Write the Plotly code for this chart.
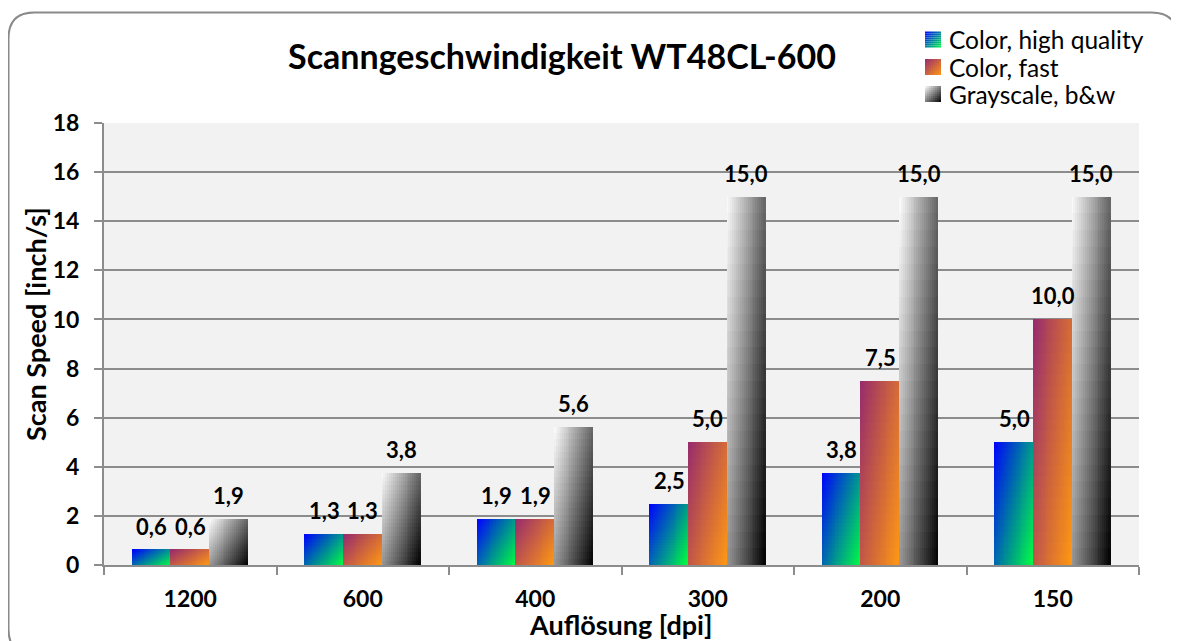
import math
import plotly.graph_objects as go

# ---------------- data ----------------
categories = ["1200", "600", "400", "300", "200", "150"]
series_names = ["Color, high quality", "Color, fast", "Grayscale, b&w"]
hq_values = [0.625, 1.25, 1.875, 2.5, 3.75, 5.0]
fast_values = [0.625, 1.25, 1.875, 5.0, 7.5, 10.0]
gray_values = [1.875, 3.75, 5.625, 15.0, 15.0, 15.0]
y_ticks = [0, 2, 4, 6, 8, 10, 12, 14, 16, 18]

title_text = "Scanngeschwindigkeit WT48CL-600"
y_title = "Scan Speed [inch/s]"
x_title = "Auflösung [dpi]"

# ---------------- styling ----------------
OFF = 8  # page body margin
W, H = 1179 - OFF, 641 - OFF
ML, MR, MT, MB = 104 - OFF, 40, 123 - OFF, 76
PW, PH = W - ML - MR, H - MT - MB
FONT = "Lato"

grad = [  # (top-left colour, bottom-right colour)
    ((0, 0, 255), (0, 255, 64)),
    ((150, 42, 110), (255, 152, 18)),
    ((255, 255, 255), (0, 0, 0)),
]

all_values = [hq_values, fast_values, gray_values]

group_w = 0.67
bar_w = group_w / 3
NX, NY = 20, 22  # gradient slices


def lerp(c0, c1, t):
    return "rgb(%d,%d,%d)" % tuple(round(a + (b - a) * t) for a, b in zip(c0, c1))


def label(v):
    return ("%.1f" % (math.floor(v * 10 + 0.5) / 10)).replace(".", ",")


def px2paper(px, py):
    # reference-image pixel -> paper coords
    return (px - OFF - ML) / PW, (MT + PH - (py - OFF)) / PH


fig = go.Figure()

for s, vals in enumerate(all_values):
    c0, c1 = grad[s]
    left = -group_w / 2 + s * bar_w
    for k in range(NX):
        u = (k + 0.5) / NX
        for j in range(NY):
            vfrac_top = 1 - (j + 0.5) / NY
            t = 0.6 * u + 0.4 * vfrac_top
            fig.add_trace(go.Bar(
                x=categories,
                y=[v / NY for v in vals],
                base=[v * j / NY for v in vals],
                offset=left + k * bar_w / NX,
                width=bar_w / NX,
                marker=dict(color=lerp(c0, c1, t), line=dict(width=0)),
                name=series_names[s],
                legendgroup=series_names[s],
                showlegend=False,
                hoverinfo="skip",
            ))

annotations = []
for s, vals in enumerate(all_values):
    center = -group_w / 2 + (s + 0.5) * bar_w
    for i, v in enumerate(vals):
        annotations.append(dict(
            x=i + center, y=v, xref="x", yref="y",
            text="<b>%s</b>" % label(v), showarrow=False,
            xanchor="center", yanchor="bottom", yshift=8,
            font=dict(family=FONT, size=22, color="#000"),
        ))

ax, ay = px2paper(35, 324)
annotations.append(dict(
    x=ax, y=ay, xref="paper", yref="paper", xanchor="center", yanchor="middle",
    text="<b>%s</b>" % y_title, textangle=-90, showarrow=False,
    font=dict(family=FONT, size=27, color="#000"),
))
ax, ay = px2paper(620, 624)
annotations.append(dict(
    x=ax, y=ay, xref="paper", yref="paper", xanchor="center", yanchor="middle",
    text="<b>%s</b>" % x_title, showarrow=False,
    font=dict(family=FONT, size=27, color="#000"),
))

shapes = []
# custom legend with gradient swatches
leg_rows = [39.5, 67, 94]
SW = 16
G = 8
for s, name in enumerate(series_names):
    c0, c1 = grad[s]
    cy = leg_rows[s]
    sx0, sy0 = 925, cy - SW / 2
    for a in range(G):
        for b in range(G):
            t = 0.5 * (a + 0.5) / G + 0.5 * (b + 0.5) / G
            px0, py0 = px2paper(sx0 + a * SW / G, sy0 + b * SW / G)
            px1, py1 = px2paper(sx0 + (a + 1) * SW / G, sy0 + (b + 1) * SW / G)
            shapes.append(dict(type="rect", xref="paper", yref="paper",
                               x0=px0, x1=px1, y0=py1, y1=py0,
                               fillcolor=lerp(c0, c1, t), line=dict(width=0)))
    tx, ty = px2paper(947, cy)
    annotations.append(dict(
        x=tx, y=ty, xref="paper", yref="paper", xanchor="left", yanchor="middle",
        text=name, showarrow=False,
        font=dict(family=FONT, size=24.5, color="#000"),
    ))


def P(x, y):
    a, b = px2paper(x, y)
    return "%.5f,%.5f" % (a, b)


# rounded outer frame
x0, y0, x1, y1, r = 8.5, 12.5, 1177.5, 655, 26
path = ("M " + P(x0, y0 + r) + " Q " + P(x0, y0) + " " + P(x0 + r, y0) +
        " L " + P(x1 - r, y0) + " Q " + P(x1, y0) + " " + P(x1, y0 + r) +
        " L " + P(x1, y1 - r) + " Q " + P(x1, y1) + " " + P(x1 - r, y1) +
        " L " + P(x0 + r, y1) + " Q " + P(x0, y1) + " " + P(x0, y1 - r) + " Z")
shapes.append(dict(type="path", path=path, xref="paper", yref="paper",
                   line=dict(color="#8a8a8a", width=2), layer="below"))

fig.update_layout(
    width=W, height=H,
    margin=dict(l=ML, r=MR, t=MT, b=MB, autoexpand=False),
    paper_bgcolor="white",
    plot_bgcolor="#F2F2F2",
    barmode="overlay",
    bargap=0, bargroupgap=0,
    showlegend=False,
    title=dict(text="<b>%s</b>" % title_text, x=(562 - OFF) / W, y=1 - (57 - OFF) / H,
               xanchor="center", yanchor="middle",
               font=dict(family=FONT, size=34, color="#000")),
    annotations=annotations,
    shapes=shapes,
    xaxis=dict(
        type="category", categoryorder="array", categoryarray=categories,
        range=[-0.5, len(categories) - 0.5],
        showgrid=False, showline=True, linecolor="#8c8c8c", linewidth=2,
        ticks="outside", tickson="boundaries", ticklen=8, tickcolor="#8c8c8c", tickwidth=2,
        tickfont=dict(family=FONT, size=23, color="#000", weight="bold"),
        ticklabelstandoff=12,
    ),
    yaxis=dict(
        range=[0, 18], tickvals=y_ticks, ticktext=[str(v) for v in y_ticks],
        showgrid=True, gridcolor="#8c8c8c", gridwidth=2,
        showline=True, linecolor="#8c8c8c", linewidth=2,
        zeroline=False,
        ticks="outside", ticklen=8, tickcolor="#8c8c8c", tickwidth=2,
        tickfont=dict(family=FONT, size=23, color="#000", weight="bold"),
        ticklabelstandoff=10,
    ),
)

fig.write_html("out.html")
